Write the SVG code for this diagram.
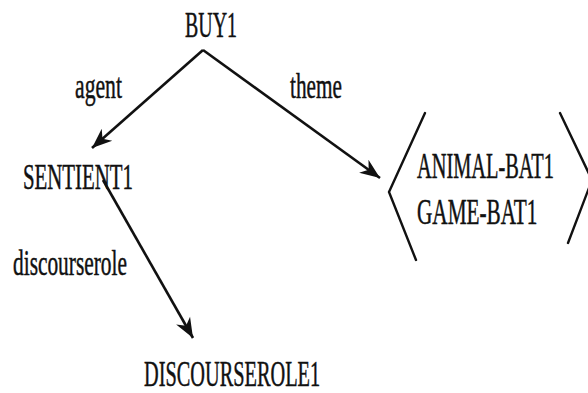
<svg xmlns="http://www.w3.org/2000/svg" width="588" height="393" viewBox="0 0 588 393">
<style>
text{font-family:"Liberation Serif","Times New Roman",serif;font-size:36px;fill:#111;stroke:#111;stroke-width:0.5}
.edge{stroke:#111;stroke-width:2.6;fill:none}
.br{stroke:#111;stroke-width:2.4;fill:none;stroke-linecap:round}
</style>
<defs>
<marker id="ah" markerUnits="userSpaceOnUse" markerWidth="22" markerHeight="18" viewBox="0 0 22 18" refX="20" refY="9" orient="auto">
<path d="M0,1 L20,9 L0,17 L6,9 Z" fill="#111"/>
</marker>
</defs>
<rect width="588" height="393" fill="#fff"/>
<g id="connectors">
<line class="edge" x1="203" y1="50" x2="92" y2="148" marker-end="url(#ah)"/>
<line class="edge" x1="203" y1="50" x2="380" y2="178" marker-end="url(#ah)"/>
<line class="edge" x1="103" y1="180" x2="193" y2="338" marker-end="url(#ah)"/>
<text transform="translate(75,98) scale(0.603,1)">agent</text>
<text transform="translate(290,98) scale(0.591,1)">theme</text>
<text transform="translate(13,275) scale(0.594,1)">discourserole</text>
</g>
<g id="buy1"><text transform="translate(185,37) scale(0.553,1)">BUY1</text></g>
<g id="sentient1"><text transform="translate(23,189) scale(0.579,1)">SENTIENT1</text></g>
<g id="discourserole1"><text transform="translate(144,386) scale(0.565,1)">DISCOURSEROLE1</text></g>
<g id="bats">
<polyline class="br" points="425,113 389,192 416,260"/>
<polyline class="br" points="560,113 592,180 568,243"/>
<text transform="translate(417,178) scale(0.566,1)">ANIMAL-BAT1</text>
<text transform="translate(417,224) scale(0.59,1)">GAME-BAT1</text>
</g>
</svg>
